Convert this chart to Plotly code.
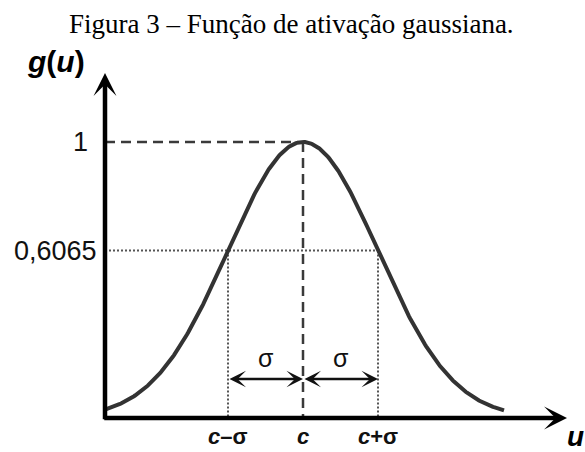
import numpy as np
import plotly.graph_objects as go

# Gaussian activation parameters (centre and spread)
c = 0.0
sigma = 1.0
peak_level = 1.0
half_level = 0.6065          # g(c ± sigma) = e^(-1/2)
arrow_level = 0.141          # height of the sigma span arrows
curve_start = -2.64          # curve drawn from the vertical axis...
curve_end = 2.68             # ...to where it meets the horizontal axis

tick_u = [c - sigma, c, c + sigma]
tick_text = ["<i>c</i>–σ", "<i>c</i>", "<i>c</i>+σ"]
level_values = [peak_level, half_level]
level_text = ["1", "0,6065"]

u = np.linspace(curve_start, curve_end, 400)
g = peak_level * np.exp(-((u - c) ** 2) / (2 * sigma ** 2))

W, H = 585, 452
x_range = [-4.04, 3.76]
y_range = [-0.1232, 1.5145]

axis_u = curve_start          # where the g(u) axis stands
x_tip = 3.52
y_tip = 1.25

CURVE = "#333333"
DASH = "#3a3a3a"
DOT = "#555555"
SANS = "Liberation Sans, Arial, sans-serif"

fig = go.Figure()
fig.add_trace(go.Scatter(x=u, y=g, mode="lines",
                         line=dict(color=CURVE, width=4), hoverinfo="skip"))

shapes = [
    # dashed guides to the peak
    dict(type="line", x0=axis_u, x1=c, y0=peak_level, y1=peak_level,
         line=dict(color=DASH, width=2.5, dash="10px,6px")),
    dict(type="line", x0=c, x1=c, y0=peak_level, y1=0,
         line=dict(color=DASH, width=2.5, dash="10px,6px")),
    # dotted guides at c ± sigma
    dict(type="line", x0=axis_u, x1=c + sigma, y0=half_level, y1=half_level,
         line=dict(color=DOT, width=2, dash="2px,2px")),
    dict(type="line", x0=c - sigma, x1=c - sigma, y0=half_level, y1=0,
         line=dict(color=DOT, width=2, dash="2px,2px")),
    dict(type="line", x0=c + sigma, x1=c + sigma, y0=half_level, y1=0,
         line=dict(color=DOT, width=2, dash="2px,2px")),
]
for s in shapes:
    s.update(xref="x", yref="y", layer="below")

ann = []
# axes drawn as arrows
ann.append(dict(x=x_tip, y=0, ax=axis_u - 0.03, ay=0, xref="x", yref="y",
                axref="x", ayref="y", text="", showarrow=True,
                arrowhead=3, arrowsize=0.85, arrowwidth=4.5, arrowcolor="black"))
ann.append(dict(x=axis_u, y=y_tip, ax=axis_u, ay=-0.01, xref="x", yref="y",
                axref="x", ayref="y", text="", showarrow=True,
                arrowhead=3, arrowsize=0.85, arrowwidth=4.5, arrowcolor="black"))
# sigma spans
for a, b in [(c - sigma, c), (c, c + sigma)]:
    ann.append(dict(x=b, y=arrow_level, ax=a, ay=arrow_level, xref="x", yref="y",
                    axref="x", ayref="y", text="", showarrow=True,
                    arrowside="end+start", arrowhead=3, startarrowhead=3,
                    arrowsize=1.1, startarrowsize=1.1, arrowwidth=2.5,
                    arrowcolor="#111111"))
    ann.append(dict(x=(a + b) / 2, y=arrow_level + 0.075, xref="x", yref="y",
                    text="σ", showarrow=False,
                    font=dict(family=SANS, size=25, color="#111111")))
# tick labels on u
for tu, tt in zip(tick_u, tick_text):
    ann.append(dict(x=tu, y=-0.066, xref="x", yref="y", text="<b>" + tt + "</b>",
                    showarrow=False, xanchor="center", yanchor="middle",
                    borderpad=0,
                    font=dict(family=SANS, size=22, color="#111111")))
# level labels on g(u)
for lv, lt, right_px in zip(level_values, level_text, [90, 99]):
    ann.append(dict(x=right_px / W, y=lv, xref="paper", yref="y", text=lt,
                    showarrow=False, xanchor="right", yanchor="middle",
                    font=dict(family=SANS, size=27, color="#111111")))
# axis names
ann.append(dict(x=56 / W, y=1 - 62 / H, xref="paper", yref="paper",
                text="<b><i>g</i>(<i>u</i>)</b>", showarrow=False,
                xanchor="center", yanchor="middle",
                font=dict(family=SANS, size=30, color="black")))
ann.append(dict(x=1.0, y=1 - 436 / H, xref="paper", yref="paper",
                text="<b><i>u</i></b>", showarrow=False,
                xanchor="right", yanchor="middle", borderpad=0,
                font=dict(family=SANS, size=28, color="black")))
# caption
ann.append(dict(x=291 / W, y=1 - 24 / H, xref="paper", yref="paper",
                text="Figura 3 – Função de ativação gaussiana.", showarrow=False,
                xanchor="center", yanchor="middle",
                font=dict(family="Liberation Serif, Times New Roman, serif",
                          size=27, color="black")))

fig.update_layout(
    width=W, height=H,
    margin=dict(l=0, r=0, t=0, b=0),
    paper_bgcolor="white", plot_bgcolor="white",
    showlegend=False,
    xaxis=dict(range=x_range, visible=False, fixedrange=True),
    yaxis=dict(range=y_range, visible=False, fixedrange=True),
    shapes=shapes,
    annotations=ann,
)

fig.write_html("out.html")
